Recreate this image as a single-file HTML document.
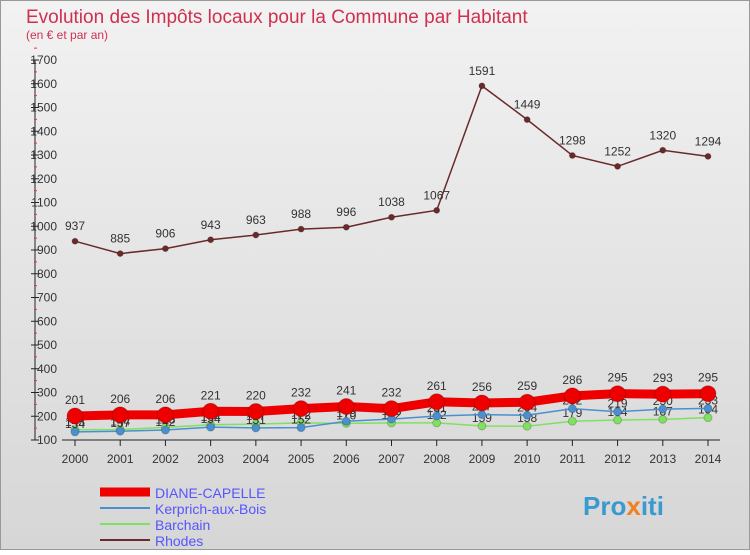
<!DOCTYPE html>
<html><head><meta charset="utf-8"><style>
body{margin:0;background:#fff}
svg{font-family:"Liberation Sans",sans-serif}
</style></head><body>
<svg width="750" height="550" viewBox="0 0 750 550" xmlns="http://www.w3.org/2000/svg">
<defs><linearGradient id="bg" x1="0" y1="0" x2="0" y2="1"><stop offset="0" stop-color="#f2f2f2"/><stop offset="1" stop-color="#d6d6d6"/></linearGradient></defs>
<rect x="0.5" y="0.5" width="749" height="549" fill="url(#bg)" stroke="#999"/>
<text x="26" y="23" font-size="19" fill="#d03050">Evolution des Impôts locaux pour la Commune par Habitant</text>
<text x="26" y="39" font-size="12" fill="#d03050">(en € et par an)</text>
<g id="axes"></g><g id="series"></g>
<g>
<line x1="100" y1="492" x2="150" y2="492" stroke="#e00" stroke-width="9"/>
<text x="155" y="498" font-size="14" fill="#55f">DIANE-CAPELLE</text>
<line x1="100" y1="508" x2="150" y2="508" stroke="#4a90d0" stroke-width="2"/>
<text x="155" y="514" font-size="14" fill="#55f">Kerprich-aux-Bois</text>
<line x1="100" y1="524" x2="150" y2="524" stroke="#80e060" stroke-width="2"/>
<text x="155" y="530" font-size="14" fill="#55f">Barchain</text>
<line x1="100" y1="540" x2="150" y2="540" stroke="#6a2a2a" stroke-width="2"/>
<text x="155" y="546" font-size="14" fill="#55f">Rhodes</text>
</g>
<text x="583" y="515" font-size="26" font-weight="bold" fill="#3a9ad0">Pro<tspan fill="#f08020">x</tspan>iti</text>
</svg>
<script>
const years=[2000,2001,2002,2003,2004,2005,2006,2007,2008,2009,2010,2011,2012,2013,2014];
const yTicks=[100,200,300,400,500,600,700,800,900,1000,1100,1200,1300,1400,1500,1600,1700];
const diane=[201,206,206,221,220,232,241,232,261,256,259,286,295,293,295];
const kerprich=[134,137,142,154,151,152,179,188,201,207,204,232,219,230,233];
const barchain=[143,144,153,164,167,172,170,172,172,159,158,179,184,187,194];
const rhodes=[937,885,906,943,963,988,996,1038,1067,1591,1449,1298,1252,1320,1294];
const NS="http://www.w3.org/2000/svg";
const X=i=>75+i*(708-75)/14;
const Y=v=>440-(v-100)*380/1600;
function mk(t,a,p){const e=document.createElementNS(NS,t);for(const k in a)e.setAttribute(k,a[k]);p.appendChild(e);return e;}
const ax=document.getElementById('axes');
const yl=mk('line',{x1:35,y1:60,x2:35,y2:440,stroke:'#222'},ax);


const xl=mk('line',{x1:62,y1:440,x2:720,y2:440,stroke:'#222'},ax);


yTicks.forEach(v=>{
 mk('line',{x1:31,x2:39,y1:Y(v),y2:Y(v),stroke:'#222'},ax);
 mk('line',{x1:34,x2:37,y1:Y(v+50),y2:Y(v+50),stroke:'#e33'},ax);
 const t=mk('text',{x:57,y:Y(v)+4,'font-size':12,'text-anchor':'end',fill:'#333'},ax);t.textContent=v;
 
 
});
years.forEach((y,i)=>{
 mk('line',{x1:X(i),x2:X(i),y1:440,y2:446,stroke:'#222'},ax);
 const t=mk('text',{x:X(i),y:463,'font-size':12,'text-anchor':'middle',fill:'#333'},ax);t.textContent=y;
 
 
});
const sg=document.getElementById('series');
function series(vals,color,w,r,name,lblDy){
 const g=mk('g',{},sg);
 
 
 mk('polyline',{points:vals.map((v,i)=>X(i)+','+Y(v)).join(' '),fill:'none',stroke:color,'stroke-width':w},g);
 vals.forEach((v,i)=>{
  const c=mk('circle',{cx:X(i),cy:Y(v),r:r,fill:color,stroke:'rgba(0,0,0,0.2)'},g);
  
  
  const t=mk('text',{x:X(i),y:Y(v)+lblDy,'font-size':12,'text-anchor':'middle',fill:'#333'},g);t.textContent=v;
  
  
 });
}
series(rhodes,'#6a2a2a',1.5,3,'rhodes-series',-11);
series(barchain,'#80e060',1.5,4,'barchain-series',-4);
series(kerprich,'#4a90d0',1.5,4,'kerprich-series',-4);
series(diane,'#e00',9,8,'diane-capelle-series',-12);
</script>
</body></html>
